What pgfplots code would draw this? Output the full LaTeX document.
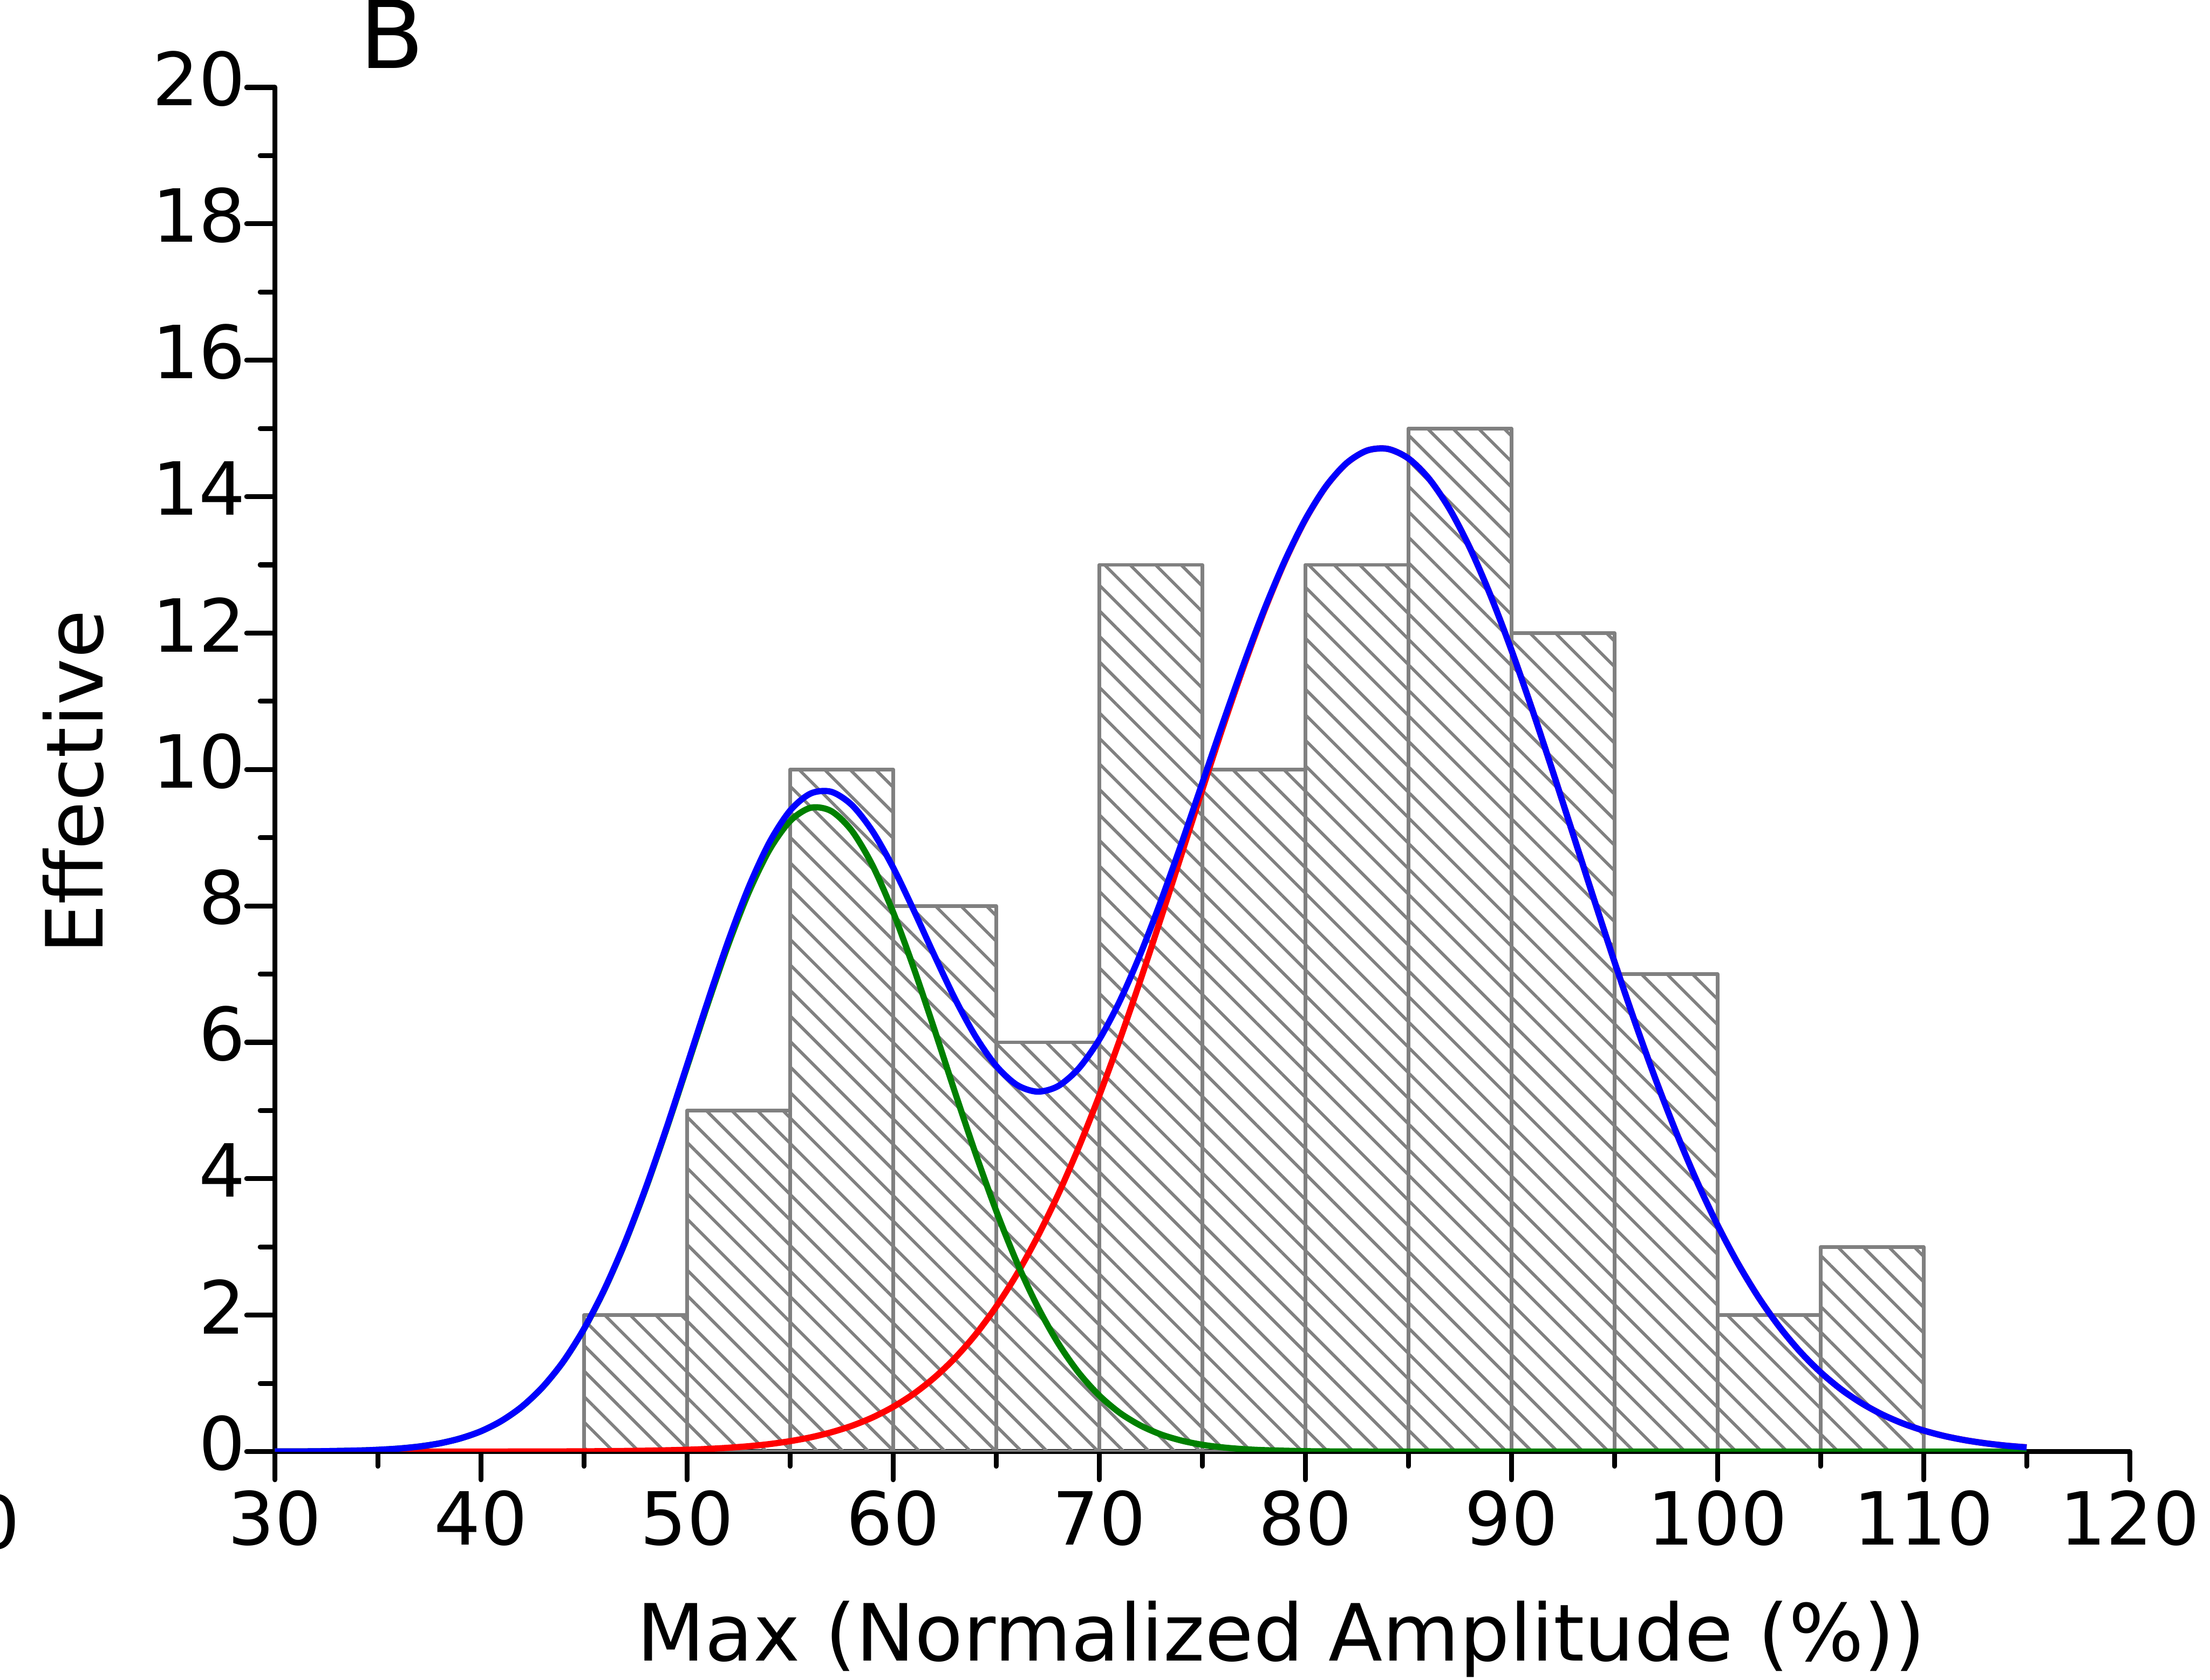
\documentclass[border=0pt]{standalone}
\usepackage{fontspec}
\setmainfont{DejaVu Sans}
\usepackage{pgfplots}
\pgfplotsset{compat=1.18}
\usetikzlibrary{patterns.meta}
\definecolor{dkgreen}{RGB}{0,128,0}
\begin{document}
\begin{tikzpicture}
\begin{axis}[
  at={(0,0)}, anchor=south west,
  scale only axis, width=329pt, height=242pt,
  xmin=30, xmax=120, ymin=0, ymax=20,
  axis lines=left,
  axis line style={-, line width=0.87pt, line cap=round},
  xtick={30,40,...,120}, ytick={0,2,...,20},
  minor x tick num=1, minor y tick num=1,
  tick align=outside,
  major tick length=5pt, minor tick length=2.6pt,
  every tick/.style={black, line width=0.87pt, line cap=round},
  tick label style={font=\fontsize{13}{15}\selectfont},
  /pgf/number format/assume math mode=true,
  xticklabel style={anchor=north, inner sep=0pt, yshift=-1.65pt},
  yticklabel style={anchor=east, inner sep=0pt, yshift=1.5pt},
  xlabel={Max (Normalized Amplitude (\%))},
  xlabel style={at={(axis description cs:0.5426,-0.1533)}, anchor=base, inner sep=0pt, font=\fontsize{14}{17}\selectfont},
  ylabel={Effective},
  ylabel style={at={(axis description cs:-0.0927,0.4907)}, anchor=base, inner sep=0pt, font=\fontsize{14}{17}\selectfont},
]
\addplot[ybar, bar width=5, bar shift=0pt, draw=gray, line width=0.65pt, line join=round,
  pattern={Lines[angle=-45, distance=3.2pt, line width=0.55pt]}, pattern color=gray]
  coordinates {(47.5,2)(52.5,5)(57.5,10)(62.5,8)(67.5,6)(72.5,13)(77.5,10)(82.5,13)(87.5,15)(92.5,12)(97.5,7)(102.5,2)(107.5,3)};
% red component
\addplot[red, line width=1.1pt, mark=none, smooth, tension=0.5, line join=round] coordinates {
(30,0)(35,0)(40,0.0004)(45,0.004)(48,0.013)(50,0.027)(51,0.039)(52,0.056)(53,0.079)(54,0.110)
(55,0.153)(56,0.209)(57,0.283)(58,0.378)(59,0.500)(60,0.655)(61,0.847)(62,1.084)(63,1.371)(64,1.716)
(65,2.124)(66,2.598)(67,3.145)(68,3.764)(69,4.456)(70,5.216)(71,6.038)(72,6.912)(73,7.826)(74,8.761)
(75,9.700)(76,10.621)(77,11.500)(78,12.317)(79,13.043)(80,13.660)(81,14.147)(82,14.489)(83,14.676)(84,14.700)
(85,14.561)(86,14.264)(87,13.820)(88,13.240)(89,12.543)(90,11.753)(91,10.890)(92,9.979)(93,9.044)(94,8.105)
(95,7.183)(96,6.294)(97,5.456)(98,4.678)(99,3.964)(100,3.323)(101,2.755)(102,2.258)(103,1.831)(104,1.468)
(105,1.164)(106,0.912)(107,0.708)(108,0.543)(109,0.412)(110,0.309)(111,0.229)(112,0.168)(113,0.122)(114,0.087)(115,0.062)};
% green component
\addplot[dkgreen, line width=1.1pt, mark=none, smooth, tension=0.5, line join=round] coordinates {
(30,0.001)(32,0.004)(34,0.015)(35,0.026)(36,0.044)(37,0.074)(38,0.121)(39,0.193)(40,0.298)(41,0.450)
(42,0.661)(43,0.947)(44,1.320)(45,1.796)(46,2.378)(47,3.068)(48,3.857)(49,4.724)(50,5.639)(51,6.557)
(52,7.430)(53,8.202)(54,8.822)(55,9.244)(56,9.439)(57,9.390)(58,9.101)(59,8.595)(60,7.909)(61,7.090)
(62,6.193)(63,5.270)(64,4.371)(65,3.531)(66,2.779)(67,2.132)(68,1.593)(69,1.159)(70,0.823)(71,0.568)
(72,0.383)(73,0.251)(74,0.161)(75,0.100)(76,0.061)(77,0.036)(78,0.021)(80,0.006)(82,0.002)(85,0)
(90,0)(100,0)(110,0)(115,0)};
% cumulative fit
\addplot[blue, line width=1.1pt, mark=none, smooth, tension=0.5, line join=round] coordinates {
(30,0.001)(32,0.004)(34,0.015)(35,0.026)(36,0.044)(37,0.074)(38,0.121)(39,0.193)(40,0.298)(41,0.451)
(42,0.662)(43,0.948)(44,1.322)(45,1.800)(46,2.384)(47,3.076)(48,3.870)(49,4.742)(50,5.666)(51,6.596)
(52,7.486)(53,8.281)(54,8.932)(55,9.397)(56,9.648)(57,9.673)(58,9.479)(59,9.095)(60,8.564)(61,7.937)
(62,7.277)(63,6.641)(64,6.087)(65,5.655)(66,5.377)(67,5.277)(68,5.357)(69,5.615)(70,6.039)(71,6.606)
(72,7.295)(73,8.077)(74,8.922)(75,9.800)(76,10.682)(77,11.536)(78,12.338)(79,13.055)(80,13.666)(81,14.150)
(82,14.491)(83,14.676)(84,14.700)(85,14.561)(86,14.264)(87,13.820)(88,13.240)(89,12.543)(90,11.753)(91,10.890)
(92,9.979)(93,9.044)(94,8.105)(95,7.183)(96,6.294)(97,5.456)(98,4.678)(99,3.964)(100,3.323)(101,2.755)
(102,2.258)(103,1.831)(104,1.468)(105,1.164)(106,0.912)(107,0.708)(108,0.543)(109,0.412)(110,0.309)(111,0.229)
(112,0.168)(113,0.122)(114,0.087)(115,0.062)};
\end{axis}
\node[anchor=base west, inner sep=0pt, font=\fontsize{16.7}{20}\selectfont] at (14.8pt,245.35pt) {B};
\node[anchor=north east, inner sep=0pt, font=\fontsize{13}{15}\selectfont] at (-45pt,-7.4pt) {120};
\pgfresetboundingbox
\path[use as bounding box] (-48.75pt,-40.5pt) rectangle (343.25pt,257.5pt);
\end{tikzpicture}
\end{document}
